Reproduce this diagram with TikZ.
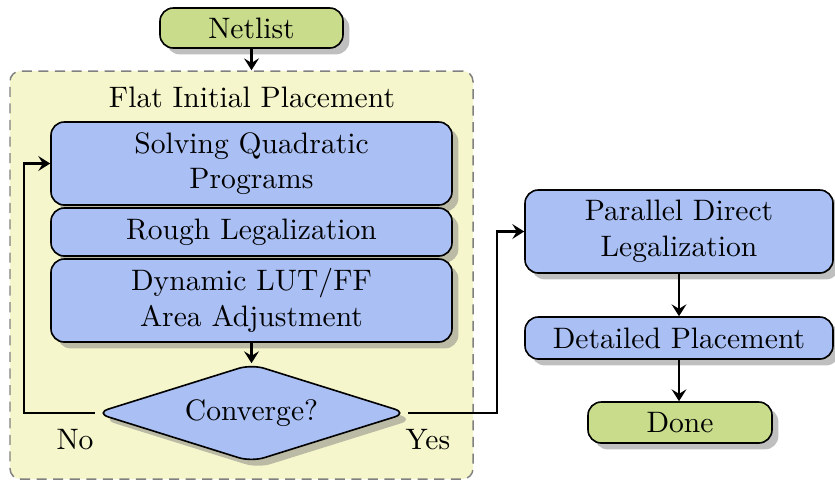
\documentclass[tikz,border=0pt]{standalone}
\usetikzlibrary{shapes.geometric,shadows,arrows.meta}
\definecolor{stepblue}{RGB}{170,192,245}
\definecolor{termgreen}{RGB}{200,220,140}
\definecolor{stagebg}{RGB}{246,246,204}
\def\pxu{0.338pt}
\begin{document}
\begin{tikzpicture}[x=0.338pt,y=-0.338pt,
  box/.style={draw, line width=0.55pt, rounded corners=4.5pt, fill=stepblue,
    drop shadow, align=center, inner sep=0pt},
  term/.style={box, fill=termgreen},
  decision/.style={draw, line width=0.55pt, diamond, aspect=3.2, rounded corners=4.5pt,
    fill=stepblue, drop shadow, inner sep=0pt},
  stage/.style={draw=black!50, dash pattern=on 3.4pt off 2.2pt, line width=0.5pt,
    rounded corners=3.5pt, fill=stagebg, inner sep=0pt},
  flow/.style={line width=0.9pt, -{Stealth[length=4pt,width=5pt,inset=1.5pt]}}]
\useasboundingbox (0,0) rectangle (835,485);

% initial placement stage
\node[stage, minimum width=463*\pxu, minimum height=408*\pxu] (flat) at (241.5,275) {};
\node (title) at (252,97) {Flat Initial Placement};

\node[term, minimum width=183*\pxu, minimum height=40*\pxu] (netlist) at (251.5,28) {Netlist};

\node[box, minimum width=401*\pxu, minimum height=83*\pxu] (solve) at (251.5,163.5)
  {Solving Quadratic\\Programs};
\node[box, minimum width=401*\pxu, minimum height=48*\pxu] (rough) at (251.5,232)
  {Rough Legalization};
\node[box, minimum width=401*\pxu, minimum height=83*\pxu] (dyn) at (251.5,300.5)
  {Dynamic LUT/FF\\Area Adjustment};
\node[decision, minimum width=312*\pxu, minimum height=98*\pxu] (conv) at (251.5,413)
  {Converge?};

% legalization and detailed placement
\node[box, minimum width=308*\pxu, minimum height=83*\pxu] (pdl) at (679,231.5)
  {Parallel Direct\\Legalization};
\node[box, minimum width=308*\pxu, minimum height=42*\pxu] (dp) at (679,338)
  {Detailed Placement};
\node[term, minimum width=184*\pxu, minimum height=41*\pxu] (done) at (680,422.5)
  {Done};

\coordinate (nocorner) at (24,413);
\coordinate (yescorner) at (497,413);

% connectors
\draw[flow] (netlist) -- (netlist |- flat.north);
\draw[flow] (dyn) -- (conv);
\draw[flow] (conv.west) -- (nocorner) |- (solve.west);
\draw[flow] (conv.east) -- (yescorner) |- (pdl.west);
\draw[flow] (pdl) -- (dp);
\draw[flow] (dp) -- (dp |- done.north);

\node (no) at (75,440) {No};
\node (yes) at (428,440) {Yes};
\end{tikzpicture}
\end{document}
